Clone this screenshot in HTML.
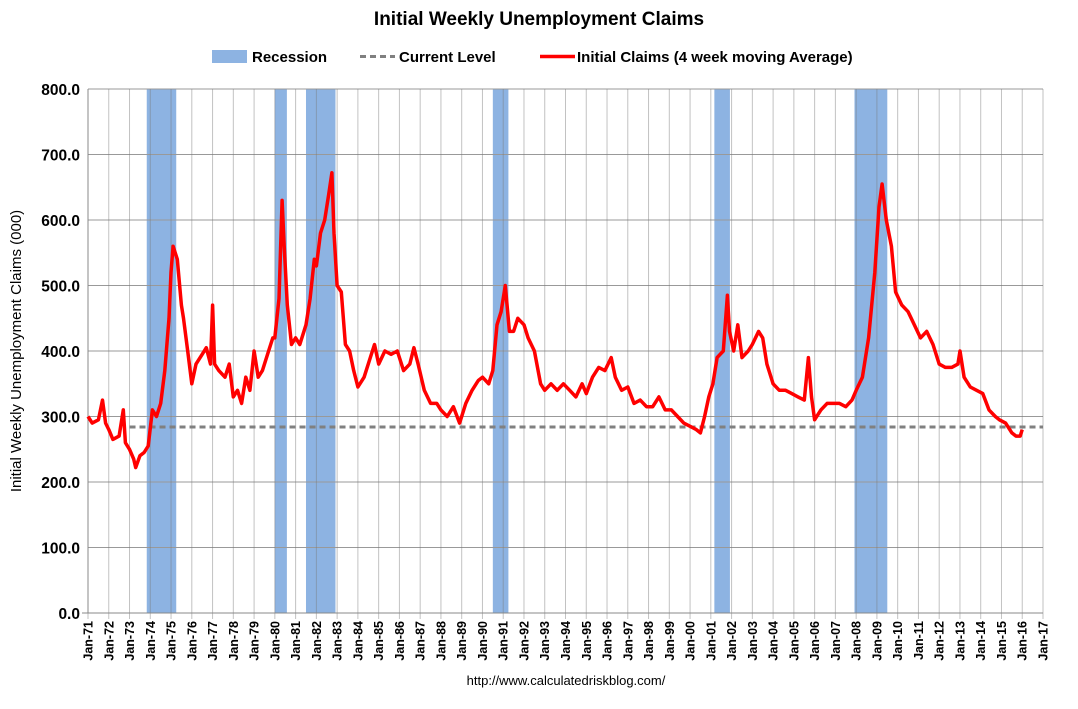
<!DOCTYPE html>
<html><head><meta charset="utf-8"><style>
body{margin:0;background:#fff;}
svg text{font-family:"Liberation Sans",sans-serif;}
</style></head><body>
<svg id="chart" width="1078" height="704">
<text x="539" y="25" text-anchor="middle" font-size="19" font-weight="bold">Initial Weekly Unemployment Claims</text>
<g>
<rect x="212" y="50" width="35" height="13" fill="#8db3e2"/>
<text x="252" y="62" font-size="15" font-weight="bold">Recession</text>
<line x1="360" y1="56.5" x2="395" y2="56.5" stroke="#808080" stroke-width="3" stroke-dasharray="6,4"/>
<text x="399" y="62" font-size="15" font-weight="bold">Current Level</text>
<line x1="540" y1="56.5" x2="575" y2="56.5" stroke="#f00" stroke-width="3.5"/>
<text x="577" y="62" font-size="15" font-weight="bold">Initial Claims (4 week moving Average)</text>
</g>
<text transform="translate(21,351) rotate(-90)" text-anchor="middle" font-size="15">Initial Weekly Unemployment Claims (000)</text>
<g id="plot"></g>
<text x="566" y="685" text-anchor="middle" font-size="13">http://www.calculatedriskblog.com/</text>
</svg>
<script>
const recStart=[1973.83,1980.0,1981.5,1990.5,2001.17,2007.92];
const recEnd=[1975.25,1980.58,1982.92,1991.25,2001.92,2009.5];
const yTicks=[0,100,200,300,400,500,600,700,800];
const currentLevel=284;
const dates=[1971.0,1971.2,1971.5,1971.7,1971.85,1972.0,1972.2,1972.5,1972.7,1972.8,1973.0,1973.2,1973.3,1973.5,1973.7,1973.9,1974.1,1974.3,1974.5,1974.7,1974.9,1975.0,1975.1,1975.3,1975.5,1975.6,1975.8,1976.0,1976.2,1976.5,1976.7,1976.9,1977.0,1977.1,1977.3,1977.6,1977.8,1978.0,1978.2,1978.4,1978.6,1978.8,1979.0,1979.2,1979.4,1979.7,1979.9,1980.0,1980.2,1980.35,1980.45,1980.6,1980.8,1981.0,1981.2,1981.5,1981.7,1981.9,1982.0,1982.2,1982.4,1982.6,1982.75,1982.85,1983.0,1983.2,1983.4,1983.6,1983.8,1984.0,1984.3,1984.6,1984.8,1985.0,1985.3,1985.6,1985.9,1986.2,1986.5,1986.7,1986.9,1987.2,1987.5,1987.8,1988.0,1988.3,1988.6,1988.9,1989.2,1989.5,1989.8,1990.0,1990.3,1990.5,1990.7,1990.9,1991.1,1991.3,1991.5,1991.7,1992.0,1992.2,1992.5,1992.8,1993.0,1993.3,1993.6,1993.9,1994.2,1994.5,1994.8,1995.0,1995.3,1995.6,1995.9,1996.2,1996.4,1996.7,1997.0,1997.3,1997.6,1997.9,1998.2,1998.5,1998.8,1999.1,1999.4,1999.7,2000.0,2000.3,2000.5,2000.7,2000.9,2001.1,2001.3,2001.6,2001.8,2001.9,2002.1,2002.3,2002.5,2002.8,2003.0,2003.3,2003.5,2003.7,2004.0,2004.3,2004.6,2004.9,2005.2,2005.5,2005.7,2005.85,2006.0,2006.3,2006.6,2006.9,2007.2,2007.5,2007.8,2008.0,2008.3,2008.6,2008.9,2009.1,2009.25,2009.45,2009.7,2009.9,2010.2,2010.5,2010.8,2011.1,2011.4,2011.7,2012.0,2012.3,2012.6,2012.9,2013.0,2013.2,2013.5,2013.8,2014.1,2014.4,2014.7,2014.9,2015.2,2015.5,2015.7,2015.9,2016.0];
const claims=[300,290,295,325,290,280,265,270,310,260,250,235,222,240,245,255,310,300,320,370,450,520,560,540,470,450,400,350,380,395,405,380,470,380,370,360,380,330,340,320,360,340,400,360,370,400,420,420,480,630,560,470,410,420,410,440,480,540,530,580,600,640,672,580,500,490,410,400,370,345,360,390,410,380,400,395,400,370,380,405,380,340,320,320,310,300,315,290,320,340,355,360,350,370,440,460,500,430,430,450,440,420,400,350,340,350,340,350,340,330,350,335,360,375,370,390,360,340,345,320,325,315,315,330,310,310,300,290,285,280,275,300,330,350,390,400,485,430,400,440,390,400,410,430,420,380,350,340,340,335,330,325,390,330,295,310,320,320,320,315,325,340,360,420,520,620,655,600,560,490,470,460,440,420,430,410,380,375,375,380,400,360,345,340,335,310,300,295,290,275,270,270,280];
const NS='http://www.w3.org/2000/svg';
const L=88,R=1043,T=89,B=613,x0=1971,x1=2017;
const xs=v=>L+(v-x0)/(x1-x0)*(R-L);
const ys=v=>B-v/800*(B-T);
const g=document.getElementById('plot');
function mk(t,a){const e=document.createElementNS(NS,t);for(const k in a)e.setAttribute(k,a[k]);g.appendChild(e);return e;}
for(let i=0;i<recStart.length;i++){
 const r=mk('rect',{x:xs(recStart[i]),y:T,width:xs(recEnd[i])-xs(recStart[i]),height:B-T,fill:'#8db3e2'});
 
 
}
for(let i=0;i<yTicks.length;i++){
 const l=mk('line',{x1:L,x2:R,y1:ys(yTicks[i]),y2:ys(yTicks[i]),stroke:'#999','stroke-width':1});
 
 
 const t=mk('text',{x:L-8,y:ys(yTicks[i])+6,'text-anchor':'end','font-size':15.5,'font-weight':'bold'});
 t.textContent=yTicks[i].toFixed(1);
 
 
}
for(let yr=1971;yr<=2017;yr++){
 const x=xs(yr);
 const l=mk('line',{x1:x,x2:x,y1:T,y2:B+6,stroke:'rgba(120,120,120,0.45)','stroke-width':1});
 
 
 const t=mk('text',{transform:`translate(${x+4.5},${B+8}) rotate(-90)`,'text-anchor':'end','font-size':12.5,'font-weight':'bold'});
 t.textContent='Jan-'+String(yr%100).padStart(2,'0');
 
 
}
const ax=mk('line',{x1:L,x2:L,y1:T,y2:B,stroke:'#888'});


const bx=mk('line',{x1:L-6,x2:R,y1:B,y2:B,stroke:'#888'});


const cl=mk('line',{x1:xs(1973),x2:R,y1:ys(currentLevel),y2:ys(currentLevel),stroke:'#808080','stroke-width':3,'stroke-dasharray':'6,4'});


let d='';
for(let i=0;i<dates.length;i++)d+=(i?'L':'M')+xs(dates[i]).toFixed(1)+','+ys(claims[i]).toFixed(1);
const p=mk('path',{d:d,fill:'none',stroke:'#f00','stroke-width':3.5,'stroke-linejoin':'round'});


</script>
</body></html>
